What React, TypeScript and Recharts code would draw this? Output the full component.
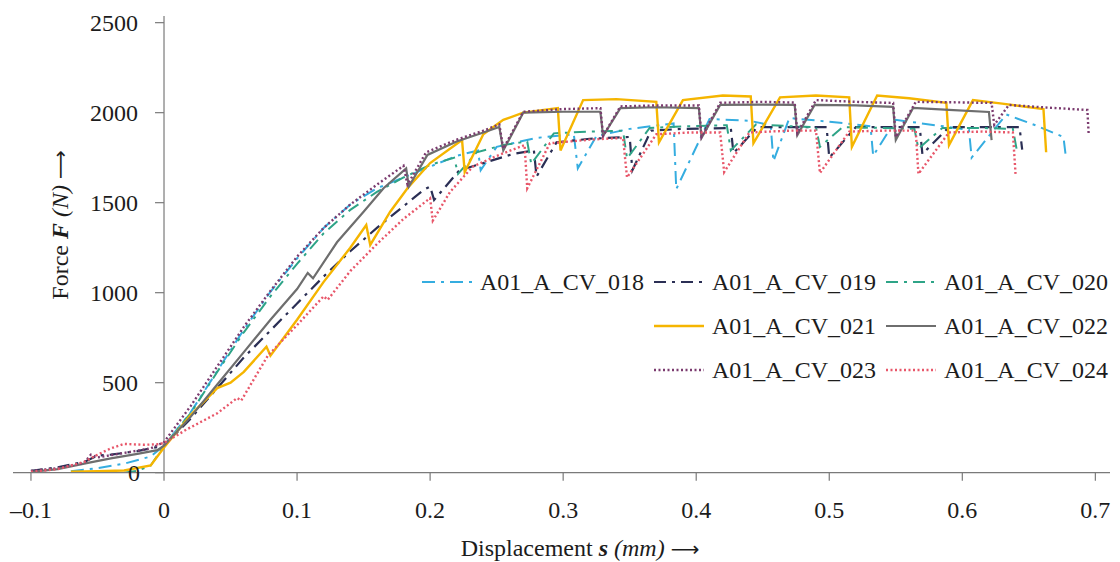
import { Label, Line, LineChart, ReferenceDot, ReferenceLine, XAxis, YAxis } from 'recharts'

// Colours and fonts.
const AXIS_COLOR = '#7a7a7a'
const TEXT_COLOR = '#1c1c1c'
const FONT = 'Liberation Serif, Tinos, DejaVu Serif, serif'
const FONT_SIZE = 24

const X_TICKS = [-0.1, 0, 0.1, 0.2, 0.3, 0.4, 0.5, 0.6, 0.7]
const Y_TICKS = [0, 500, 1000, 1500, 2000, 2500]

// Displacement s (mm), force F (N)
const CV_018: [number, number][] = [
  [-0.07, 8], [-0.05, 25], [-0.03, 50], [-0.01, 90], [0, 150], [0.02, 335], [0.04, 565],
  [0.06, 795], [0.08, 1005], [0.1, 1190], [0.12, 1360], [0.14, 1490], [0.16, 1580],
  [0.18, 1640], [0.2, 1700], [0.22, 1760], [0.236, 1790], [0.238, 1680], [0.25, 1810],
  [0.28, 1860], [0.308, 1880], [0.311, 1690], [0.325, 1870], [0.35, 1910], [0.383, 1940],
  [0.385, 1575], [0.41, 1965], [0.44, 1955], [0.456, 1930], [0.458, 1730], [0.47, 1970],
  [0.5, 1950], [0.531, 1925], [0.533, 1760], [0.55, 1960], [0.58, 1930], [0.605, 1905],
  [0.607, 1750], [0.633, 1990], [0.655, 1930], [0.676, 1865], [0.678, 1745],
]

const CV_019: [number, number][] = [
  [-0.1, 10], [-0.08, 30], [-0.06, 60], [-0.05, 95], [-0.04, 100], [-0.02, 120], [0, 150],
  [0.02, 300], [0.04, 470], [0.06, 640], [0.08, 790], [0.1, 940], [0.12, 1090], [0.14, 1230],
  [0.16, 1360], [0.18, 1480], [0.195, 1570], [0.2, 1590], [0.203, 1515], [0.222, 1680],
  [0.24, 1720], [0.262, 1770], [0.278, 1790], [0.28, 1645], [0.295, 1835], [0.32, 1855],
  [0.35, 1865], [0.352, 1680], [0.366, 1900], [0.39, 1910], [0.426, 1915], [0.428, 1775],
  [0.446, 1920], [0.47, 1920], [0.498, 1920], [0.5, 1750], [0.52, 1920], [0.545, 1920],
  [0.568, 1920], [0.57, 1770], [0.59, 1920], [0.615, 1920], [0.643, 1920], [0.645, 1795],
]

const CV_020: [number, number][] = [
  [-0.03, 0], [-0.02, 10], [-0.01, 40], [0, 150], [0.02, 330], [0.04, 560], [0.06, 780],
  [0.08, 980], [0.1, 1160], [0.12, 1330], [0.14, 1460], [0.16, 1560], [0.18, 1640],
  [0.2, 1710], [0.218, 1750], [0.221, 1660], [0.235, 1780], [0.255, 1820], [0.273, 1840],
  [0.276, 1715], [0.293, 1885], [0.32, 1895], [0.345, 1900], [0.348, 1745], [0.365, 1915],
  [0.395, 1925], [0.423, 1930], [0.426, 1790], [0.445, 1935], [0.47, 1925], [0.49, 1920],
  [0.493, 1810], [0.51, 1920], [0.54, 1915], [0.564, 1910], [0.567, 1800], [0.585, 1915],
  [0.615, 1915], [0.638, 1910], [0.641, 1790],
]

const CV_021: [number, number][] = [
  [-0.07, 5], [-0.05, 8], [-0.03, 12], [-0.01, 40], [0, 140], [0.02, 320], [0.04, 470],
  [0.05, 500], [0.06, 560], [0.077, 700], [0.08, 650], [0.1, 850], [0.12, 1060],
  [0.14, 1250], [0.152, 1376], [0.155, 1265], [0.17, 1450], [0.183, 1580], [0.2, 1720],
  [0.224, 1848], [0.226, 1670], [0.24, 1880], [0.255, 1960], [0.27, 2000], [0.296, 2025],
  [0.298, 1790], [0.315, 2070], [0.34, 2075], [0.37, 2060], [0.372, 1835], [0.39, 2070],
  [0.42, 2095], [0.441, 2090], [0.443, 1830], [0.463, 2085], [0.49, 2095], [0.515, 2085],
  [0.517, 1810], [0.536, 2095], [0.56, 2080], [0.588, 2055], [0.59, 1820], [0.608, 2070],
  [0.63, 2050], [0.661, 2020], [0.663, 1780],
]

const CV_022: [number, number][] = [
  [-0.1, 5], [-0.08, 20], [-0.06, 50], [-0.04, 80], [-0.02, 105], [-0.005, 125], [0, 150],
  [0.02, 310], [0.04, 490], [0.06, 670], [0.08, 850], [0.1, 1020], [0.108, 1110],
  [0.112, 1080], [0.13, 1280], [0.15, 1450], [0.165, 1580], [0.182, 1690], [0.184, 1590],
  [0.198, 1765], [0.22, 1840], [0.24, 1890], [0.252, 1920], [0.255, 1790], [0.27, 2000],
  [0.3, 2005], [0.328, 2005], [0.33, 1870], [0.343, 2025], [0.37, 2030], [0.402, 2025],
  [0.404, 1860], [0.418, 2043], [0.45, 2045], [0.474, 2043], [0.476, 1875], [0.489, 2043],
  [0.52, 2040], [0.548, 2032], [0.55, 1848], [0.563, 2026], [0.59, 2015], [0.62, 2004],
  [0.622, 1848],
]

const CV_023: [number, number][] = [
  [-0.1, 10], [-0.08, 25], [-0.06, 55], [-0.055, 100], [-0.05, 85], [-0.03, 110],
  [-0.01, 135], [0, 170], [0.02, 370], [0.04, 590], [0.06, 810], [0.08, 1010], [0.1, 1200],
  [0.12, 1360], [0.14, 1490], [0.16, 1600], [0.18, 1705], [0.183, 1600], [0.197, 1780],
  [0.22, 1850], [0.24, 1900], [0.252, 1935], [0.255, 1800], [0.27, 2005], [0.3, 2020],
  [0.328, 2025], [0.33, 1870], [0.343, 2035], [0.37, 2040], [0.402, 2040], [0.404, 1865],
  [0.418, 2055], [0.45, 2060], [0.474, 2056], [0.476, 1887], [0.49, 2070], [0.52, 2060],
  [0.548, 2054], [0.55, 1865], [0.565, 2060], [0.59, 2058], [0.622, 2054], [0.624, 1932],
  [0.635, 2043], [0.66, 2030], [0.694, 2015], [0.695, 1876],
]

const CV_024: [number, number][] = [
  [-0.1, 5], [-0.08, 20], [-0.06, 60], [-0.05, 100], [-0.04, 135], [-0.03, 160],
  [-0.015, 155], [-0.005, 158], [0, 165], [0.017, 240], [0.04, 330], [0.055, 415],
  [0.058, 400], [0.078, 650], [0.1, 820], [0.12, 980], [0.123, 960], [0.14, 1120],
  [0.16, 1270], [0.18, 1410], [0.2, 1525], [0.202, 1400], [0.215, 1560], [0.232, 1700],
  [0.25, 1760], [0.271, 1820], [0.273, 1580], [0.29, 1830], [0.32, 1850], [0.345, 1860],
  [0.348, 1640], [0.37, 1880], [0.395, 1890], [0.418, 1890], [0.421, 1670], [0.44, 1890],
  [0.47, 1900], [0.49, 1900], [0.493, 1665], [0.515, 1895], [0.54, 1900], [0.565, 1900],
  [0.567, 1660], [0.59, 1890], [0.615, 1895], [0.638, 1890], [0.64, 1660],
]

interface Series {
  name: string
  rows: [number, number][]
  color: string
  dash?: string
  width: number
}

const SERIES: Series[] = [
  { name: 'A01_A_CV_018', rows: CV_018, color: '#35ade0', dash: '13 6 3 6', width: 2 },
  { name: 'A01_A_CV_019', rows: CV_019, color: '#2b2f55', dash: '12 6 3 6', width: 2.2 },
  { name: 'A01_A_CV_020', rows: CV_020, color: '#2ea487', dash: '12 6 3 6', width: 2 },
  { name: 'A01_A_CV_021', rows: CV_021, color: '#f5b500', width: 2.4 },
  { name: 'A01_A_CV_022', rows: CV_022, color: '#6e6e6e', width: 2.2 },
  { name: 'A01_A_CV_023', rows: CV_023, color: '#7b3b6f', dash: '2 2.5', width: 2.4 },
  { name: 'A01_A_CV_024', rows: CV_024, color: '#e8576a', dash: '2 2.5', width: 2.4 },
]

const toPoints = (rows: [number, number][]) => rows.map(([s, f]) => ({ s, f }))

const formatX = (v: number) => (v === 0 ? '0' : v < 0 ? `–${Math.abs(v)}` : String(v))

const yTickShape = (value: number) => (props: any) => {
  const { cx, cy } = props
  return (
    <g>
      <line x1={cx - 9} x2={cx} y1={cy} y2={cy} stroke={AXIS_COLOR} strokeWidth={1.2} />
      <text
        x={cx - (value === 0 ? 24 : 26)}
        y={cy}
        dy="0.35em"
        textAnchor="end"
        fontFamily={FONT}
        fontSize={FONT_SIZE}
        fill={TEXT_COLOR}
      >
        {value}
      </text>
    </g>
  )
}

const XTitle = () => (
  <text x={580} y={556} textAnchor="middle" fontFamily={FONT} fontSize={FONT_SIZE} fill={TEXT_COLOR}>
    Displacement <tspan fontWeight="bold" fontStyle="italic">s</tspan>{' '}
    <tspan fontStyle="italic">(mm)</tspan> <tspan fontFamily="DejaVu Sans" fontSize={20}>⟶</tspan>
  </text>
)

const YTitle = () => (
  <text
    x={60}
    y={225}
    transform="rotate(-90 60 225)"
    textAnchor="middle"
    dominantBaseline="central"
    fontFamily={FONT}
    fontSize={FONT_SIZE}
    fill={TEXT_COLOR}
  >
    Force <tspan fontWeight="bold" fontStyle="italic">F</tspan>{' '}
    <tspan fontStyle="italic">(N)</tspan> <tspan fontFamily="DejaVu Sans" fontSize={20}>⟶</tspan>
  </text>
)

// Legend cells: first row holds three entries, the next rows two, right aligned.
const LEGEND_ROWS: (Series | null)[][] = [
  [SERIES[0], SERIES[1], SERIES[2]],
  [null, SERIES[3], SERIES[4]],
  [null, SERIES[5], SERIES[6]],
]

function LegendBox() {
  return (
    <div style={{ position: 'absolute', left: 422, top: 260, fontFamily: FONT, fontSize: FONT_SIZE, color: TEXT_COLOR }}>
      {LEGEND_ROWS.map((row, i) => (
        <div key={i} style={{ display: 'flex', height: 44, alignItems: 'center' }}>
          {row.map((s, j) => (
            <div key={j} style={{ width: 232, display: 'flex', alignItems: 'center' }}>
              {s && (
                <>
                  <svg width={50} height={12} style={{ marginRight: 8 }}>
                    <line
                      x1={0}
                      x2={50}
                      y1={6}
                      y2={6}
                      stroke={s.color}
                      strokeWidth={s.width}
                      strokeDasharray={s.dash}
                    />
                  </svg>
                  <span style={{ whiteSpace: 'nowrap' }}>{s.name}</span>
                </>
              )}
            </div>
          ))}
        </div>
      ))}
    </div>
  )
}

export default function App() {
  return (
    <div style={{ position: 'absolute', left: 0, top: 0, width: 1120, height: 562, background: '#fff' }}>
      <LineChart width={1120} height={562} margin={{ top: 16, right: 10, bottom: 0, left: 13 }}>
        <XAxis
          dataKey="s"
          type="number"
          domain={[-0.1135, 0.711]}
          ticks={X_TICKS}
          tickFormatter={formatX}
          allowDataOverflow
          height={89.3}
          tickSize={8}
          tickMargin={20}
          axisLine={{ stroke: AXIS_COLOR, strokeWidth: 1.2 }}
          tickLine={{ stroke: AXIS_COLOR, strokeWidth: 1.2 }}
          tick={{ fill: TEXT_COLOR, fontSize: FONT_SIZE, fontFamily: FONT }}
          label={<Label content={XTitle} />}
        />
        <YAxis type="number" domain={[0, 2537]} allowDataOverflow hide />
        <ReferenceLine x={0} stroke={AXIS_COLOR} strokeWidth={1.2} label={<Label content={YTitle} />} />
        {Y_TICKS.map((v) => (
          <ReferenceDot key={v} x={0} y={v} r={0} ifOverflow="visible" shape={yTickShape(v)} />
        ))}
        {SERIES.map((s) => (
          <Line
            key={s.name}
            data={toPoints(s.rows)}
            dataKey="f"
            name={s.name}
            type="linear"
            stroke={s.color}
            strokeWidth={s.width}
            strokeDasharray={s.dash}
            dot={false}
            activeDot={false}
            isAnimationActive={false}
          />
        ))}
      </LineChart>
      <LegendBox />
    </div>
  )
}
